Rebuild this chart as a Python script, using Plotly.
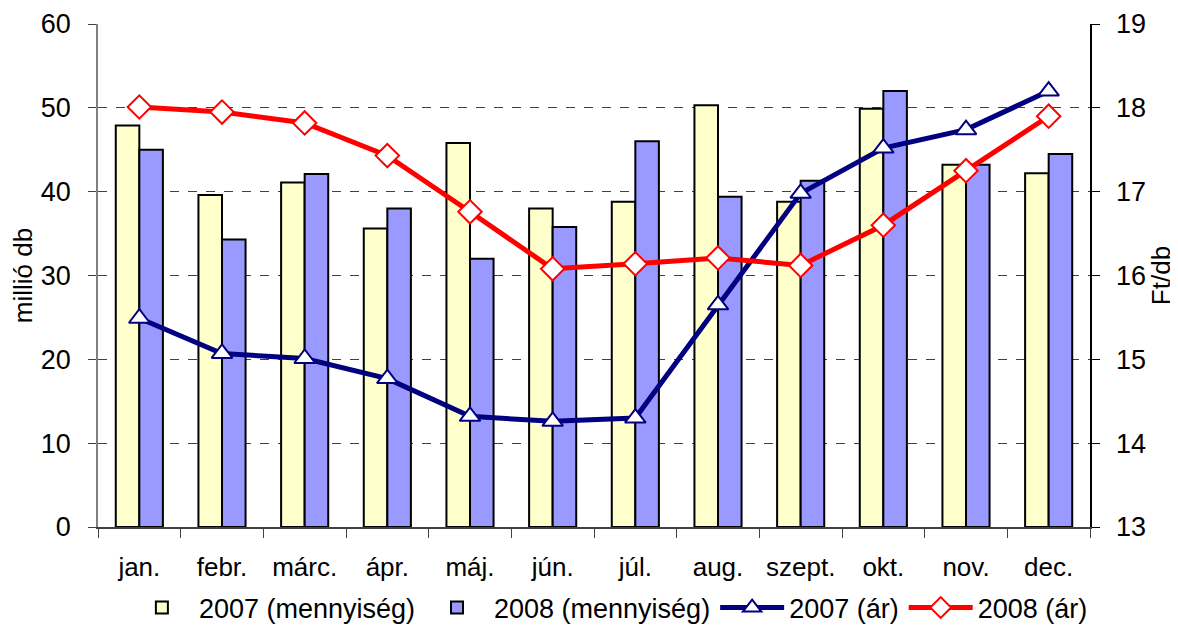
import plotly.graph_objects as go

months = ["jan.", "febr.", "márc.", "ápr.", "máj.", "jún.", "júl.", "aug.", "szept.", "okt.", "nov.", "dec."]
qty_2007 = [47.9, 39.6, 41.1, 35.6, 45.8, 38.0, 38.8, 50.3, 38.8, 49.9, 43.2, 42.2]
qty_2008 = [45.0, 34.3, 42.1, 38.0, 32.0, 35.8, 46.0, 39.4, 41.3, 52.0, 43.2, 44.5]
price_2007 = [15.49, 15.07, 15.01, 14.77, 14.32, 14.26, 14.30, 15.65, 16.98, 17.52, 17.74, 18.20]
price_2008 = [18.01, 17.95, 17.82, 17.43, 16.76, 16.08, 16.14, 16.21, 16.12, 16.60, 17.25, 17.90]

FONT = "Liberation Sans, Arial, sans-serif"

fig = go.Figure()
fig.add_trace(go.Bar(x=months, y=qty_2007, name="2007 (mennyiség)",
                     marker=dict(color="#FFFFCC", line=dict(color="black", width=2))))
fig.add_trace(go.Bar(x=months, y=qty_2008, name="2008 (mennyiség)",
                     marker=dict(color="#9999FF", line=dict(color="black", width=2))))
fig.add_trace(go.Scatter(x=months, y=price_2007, name="2007 (ár)", yaxis="y2",
                         mode="lines+markers",
                         line=dict(color="#000080", width=5),
                         marker=dict(symbol="triangle-up", size=18, color="white",
                                     line=dict(color="#000080", width=2))))
fig.add_trace(go.Scatter(x=months, y=price_2008, name="2008 (ár)", yaxis="y2",
                         mode="lines+markers",
                         line=dict(color="#FF0000", width=5),
                         marker=dict(symbol="diamond", size=18, color="white",
                                     line=dict(color="#FF0000", width=2))))

fig.update_layout(
    width=1178, height=625,
    margin=dict(l=90, r=96, t=16, b=106),
    paper_bgcolor="white", plot_bgcolor="white",
    font=dict(family=FONT, color="black"),
    barmode="group", bargap=0.43, bargroupgap=0,
    showlegend=True,
    legend=dict(orientation="h", x=0.515, xanchor="center",
                yref="container", y=0.04, yanchor="middle",
                font=dict(size=27, family=FONT), traceorder="normal",
                itemwidth=64, tracegroupgap=0),
    xaxis=dict(
        automargin=False,
        range=[-0.5, 11.5],
        tickfont=dict(size=26, family=FONT),
        showline=True, linecolor="#404040", linewidth=1.5,
        ticks="outside", tickson="boundaries", ticklen=9, tickcolor="#404040",
        ticklabelstandoff=16,
        showgrid=False,
    ),
    yaxis=dict(
        automargin=False,
        range=[0, 60], dtick=10,
        tickfont=dict(size=27, family=FONT),
        ticklabelstandoff=12,
        title=dict(text="millió db", font=dict(size=26, family=FONT), standoff=6),
        showline=True, linecolor="#808080", linewidth=1.5,
        ticks="outside", ticklen=8, tickcolor="#404040",
        showgrid=True, gridcolor="#404040", griddash="dash", gridwidth=1,
        zeroline=False,
    ),
    yaxis2=dict(
        automargin=False,
        range=[13, 19], dtick=1, overlaying="y", side="right",
        tickfont=dict(size=27, family=FONT),
        tickprefix="\u2009\u2009",
        title=dict(text="Ft/db", font=dict(size=26, family=FONT), standoff=6),
        showline=True, linecolor="black", linewidth=1.5,
        ticks="outside", ticklen=8, tickcolor="black",
        showgrid=False, zeroline=False,
    ),
)

fig.write_html("out.html")
